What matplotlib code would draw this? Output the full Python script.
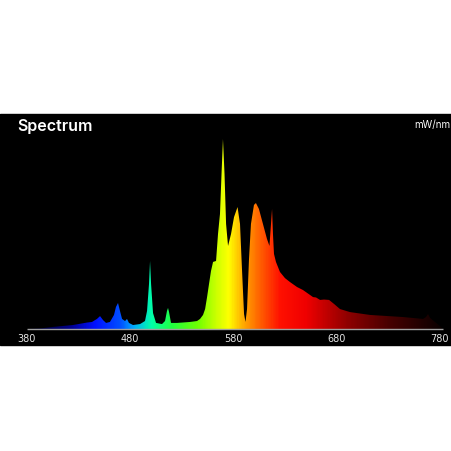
import numpy as np
import matplotlib
matplotlib.use("Agg")
import matplotlib.pyplot as plt
from matplotlib.colors import LinearSegmentedColormap
from matplotlib.patches import Rectangle

# --- spectrum (wavelength nm, relative power) -------------------------------
WL = [380.0, 392.9, 405.5, 424.8, 438.4, 443.2, 448.0, 451.0, 453.9, 456.8,
      460.6, 464.5, 466.4, 468.4, 470.3, 472.3, 475.2, 477.1, 479.0, 482.9,
      489.7, 494.5, 496.5, 498.4, 499.4, 500.4, 502.3, 505.2, 511.0, 513.9,
      515.8, 516.8, 517.8, 519.7, 525.5, 538.1, 544.9, 547.8, 550.7, 552.7,
      554.6, 556.5, 558.4, 560.4, 563.3, 565.2, 567.1, 568.6, 570.0, 571.5,
      573.0, 574.9, 577.8, 580.7, 584.1, 586.5, 588.4, 590.4, 591.8, 593.3,
      595.2, 597.1, 600.0, 601.9, 604.8, 608.7, 612.6, 615.0, 616.5, 617.5,
      618.4, 619.4, 621.3, 625.2, 630.0, 634.9, 641.7, 647.5, 654.3, 657.2,
      660.1, 664.0, 667.8, 672.7, 677.5, 683.3, 693.0, 712.4, 744.3, 763.7,
      766.6, 768.5, 770.5, 775.3, 780.1, 783.0]
POWER = [0.000, 0.003, 0.011, 0.021, 0.034, 0.037, 0.053, 0.068, 0.047, 0.032,
         0.037, 0.074, 0.116, 0.137, 0.095, 0.053, 0.042, 0.053, 0.032, 0.021,
         0.026, 0.042, 0.095, 0.237, 0.358, 0.237, 0.084, 0.032, 0.026, 0.042,
         0.095, 0.111, 0.089, 0.032, 0.032, 0.037, 0.042, 0.053, 0.074, 0.105,
         0.168, 0.237, 0.305, 0.353, 0.358, 0.500, 0.605, 0.816, 1.000, 0.816,
         0.553, 0.437, 0.500, 0.589, 0.642, 0.553, 0.316, 0.079, 0.037, 0.105,
         0.368, 0.553, 0.653, 0.663, 0.632, 0.553, 0.474, 0.437, 0.553, 0.632,
         0.500, 0.395, 0.353, 0.300, 0.268, 0.247, 0.221, 0.205, 0.179, 0.168,
         0.166, 0.153, 0.155, 0.153, 0.132, 0.105, 0.089, 0.074, 0.063, 0.053,
         0.063, 0.079, 0.058, 0.037, 0.016, 0.000]
TICKS = [380, 480, 580, 680, 780]

# wavelength -> colour stops for the rainbow fill
STOPS = [(380, "#000018"), (420, "#00008a"), (445, "#0010ff"), (470, "#0050ff"),
         (482, "#00a8ff"), (500, "#00ffa8"), (520, "#20ff40"), (545, "#70ff00"),
         (562, "#c8ff00"), (575, "#ffff00"), (588, "#ffb000"), (603, "#ff6a00"),
         (625, "#ff1000"), (650, "#f00000"), (690, "#900000"), (730, "#480000"),
         (783, "#080000")]

fig = plt.figure(figsize=(4.52, 4.52), dpi=100)
fig.patch.set_facecolor("white")
fig.patches.append(Rectangle((0, 1 - 346 / 452), 1, (346 - 115) / 452,
                             transform=fig.transFigure, color="black", zorder=-5))

# axes spans the black panel above the baseline
ax = fig.add_axes([0, 1 - 330 / 452, 1, (330 - 115) / 452], zorder=2)
ax.set_facecolor("black")
lo, hi = STOPS[0][0], STOPS[-1][0]
cmap = LinearSegmentedColormap.from_list(
    "spec", [((w - lo) / (hi - lo), c) for w, c in STOPS])

x0 = 380 - 26.7 / 1.033
x1 = 380 + (452 - 26.7) / 1.033

poly = ax.fill_between(WL, POWER, 0, color="none", lw=0)
grad = np.linspace(lo, hi, 600).reshape(1, -1)
img = ax.imshow(grad, cmap=cmap, aspect="auto", extent=(lo, hi, 0, 1.0),
                origin="lower", zorder=1)
img.set_clip_path(poly.get_paths()[0], transform=ax.transData)
ax.set_xlim(x0, x1)
ax.set_ylim(0, (330 - 115) / 190)

ax.hlines(0, 380, 783, color="#a0a0a0", lw=1.0, zorder=3, clip_on=False)

for s in ax.spines.values():
    s.set_visible(False)
ax.set_yticks([])
ax.set_xticks(TICKS)
ax.set_xticklabels([str(t) for t in TICKS])
ax.tick_params(axis="x", length=0, pad=3, labelsize=7, labelcolor="#e6e6e6")

fig.text(17 / 452, 1 - 127 / 452, "Spectrum", color="white", fontsize=11.5,
         fontweight="semibold", family="Inter", va="center", ha="left")
fig.text(450 / 452, 1 - 125 / 452, "mW/nm", color="white", fontsize=7,
         family="Inter", va="center", ha="right")

fig.savefig("out.png", dpi=100, facecolor="white")
